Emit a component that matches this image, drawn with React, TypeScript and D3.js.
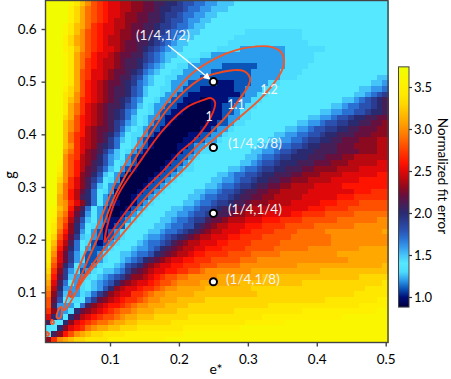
import React, { useEffect, useRef } from "react";
import * as d3 from "d3";

// fit error, one string per row (top row first), 60 cells each.
// a = 0.9, b = 1.0 ... z = 3.4, A = 3.5, B = 3.6, C = 3.7. spaces are only for counting
const levels = "abcdefghijklmnopqrstuvwxyzABC";
const fitErrorRows = [
  "CCCCBzxvts rqqppoonnm mllkjjiihh gggfffffff ffffffffff ffffffffff",
  "CCCCAywuts rqqppoonnm llkkjiihhg ggffffffff ffffffffff ffffffffff",
  "CCCCAywuts rqqpoonnmm lkkjiihhgg ffffffffff ffffffffff ffffffffff",
  "CCCCAywuts rqppoonnmm lkjjihhggf ffffffffff ffffffffff ffffffffff",
  "CCCBzxwusr qqpponnmml kkjiihggff ffffffffff ffffffffff ffffffffff",
  "CCCBzxvtsr qqpoonnmml kjiihggfff fffffeeeee eeeeefffff ffffffffff",
  "CCCAywvtsr qppoonmmlk jjihggffff fffeeeeeee eeeeefffff ffffffffff",
  "CCCAywvtsr qpponnmmlk jihggfffff ffeeeeeeee eeeeeeffff ffffffffff",
  "CCCAzxvtsr qqponnmlkj ihggffffff eeeedddddd ddeeeeeeef ffffffffff",
  "CCCBzwutrq qponnmmkji hggffffeed dddddddddd ddeeeeefff ffffffffff",
  "CCCBzwusrq pponmmlkji hgfffeeddd dddddddddd ddeeeeefff ffffffffff",
  "CCCBzwusrq pponmmljih gffeeddddd dccccccddd ddeeeeffff ffffffffff",
  "CCCBzwtsqq ponnmlkihg ffeedddddc ccccccdddd deeeefffff ffffffffff",
  "CCCBzwtsqq ponmmkjhgf feeddddccc ccccccdddd deeeffffff ffffffffgg",
  "CCCBzwtrqp onnmlkihgf fedddccccc bbbcccddde efffffffff fffffffggh",
  "CCCAywtrqp onmmljigff eeddcccbbb bbbccdddee ffffffffff fffffgghhi",
  "CCCzyvtrqp onmmljigff eddccbbbbb bbbbcddeef ffffffffff ffffgghijk",
  "CCCzxvsrqp onmlkihffe ddccbbbaab bbccddeeff ffffffffff ffgghijklm",
  "CCCzwusqpo nmmljigfed dccbbaaaab bccddeefff ffffffffff gghiijjklm",
  "CCCzwusqpo nmlkihffed ccbbaaaaab bccdeeffff ffffffffgg hhiijjkllm",
  "CCCywtrqpo nmlkigfedd cbbaaaaaab bcddeeffff ffffffgghh ijjkllmmnn",
  "CCCxvtrqpo nmkjhgfedc cbaaaaaabb ccdeefffff ffffgghhij jkkllmmnno",
  "CCCxvtrpon nmkigfedcc baaaaaabbc ddefffffff ffgghhijjk kllmmnnnoo",
  "CCCxusrpon mljhfeedcb aaaaabbccd deffffffff gghhiijjkl lmmmnnnooo",
  "CCCxusqpon mkigfedcba aaaabbccdd effffffffg ghhiijkkll mmnnnooopp",
  "CCCxvsqpom lkiffedcba aaabbcddee fffffffggh hiijjkllmm mnnnoooopp",
  "CCCwusqonm kigfedcbaa aaabccdeef ffffffgghh ijjklllmmm mnnnnooopp",
  "CCCvtsponl jhgfdcbaaa aabccdefff fffffgghii jkklllmmmn nnoopppppp",
  "CCBvtrpoml jhfedcaaaa abccdeffff ffffgghijj klllmmmnnn ooopppppqq",
  "CCAvtrpnmk igfdcbaaaa bccdeeffff ffgghiijkk llmmmnnooo oppppqqqqq",
  "CCzvtronlj gfdcaaaaab ccdeffffff gghiijjkll mmmnnooopp ppqqqqqqrr",
  "CCyvsqomki fedbaaaabc cdeffffffg ghhijjkllm mnnooopppp qqqqqrrrrr",
  "CCxusqomjg fdcaaaabcc deffffffgg hiijkklmmn nooppppqqq qqrrrrrrrr",
  "CCxurpnlif edbaaabccd efffffgghh ijjklmmnno opppppqqqq qqqqrrrsss",
  "CCwurpmlif dcaaabccde fffffgghii jjklmmnnoo pppppqqqqq qrrrssssss",
  "CCwvsqolif dcbaabcdef ffffgghiij kklmmnooop pppqqqqqrr rssssttttt",
  "CBxvromifd cbaabcdeff ffgghhijjk lmmnnopppp pqqqqqrrrs sssttttttt",
  "CBwuqnlhfd caabcdefff fgghhijjkl mmnoopppqq qqqrrsssst ttttuuuuuu",
  "CAvtpmjgfd cbbcdeffff gghiijkkmn nopppqqqrr rssssttttt tuuuuuuuvv",
  "Czvsolifed bbcceffffg ghiijjlmno ppqqqrrrss sstttttuuu uuuuvvvvvv",
  "Czurolhfdc bcdeffffgg hiijklmnop pqqqrrssss ttttuuuuuv vvvvvvvvvw",
  "Bytqnkgedc bcdefffghh ijklmnoppq qqrrsssstt tttuuuuuuu vvvvvvvvvv",
  "Bxspmifecb cdefffghii jkmnoppqqq rrsssstttt tuuuuuuuuu vvvvvvvvvv",
  "Bwrolifdcc defffghhij lmnoppqqrr rssssttttt uuuuuuvvvv vvvvvwwwww",
  "Avqnkheccd effgghiijl mnoppqrrss ssttttuuuu uvvvvvvvvv vwwwwwwwww",
  "Auqnkheccd effghijlmn opqqrrssst ttttuuuvvv vvvvvvvvvv vvvwwwwwww",
  "ztpljfdcde ffghjklnop qqrrsssttt uuuuvvvvvv vvvvwwwwww wwwwwwwwwx",
  "ysokhecdef gghikmnopq qrrssttuvv vvvvvvwwww wwwwwwwwxx xxxxxxxxxx",
  "xrnkgddefg hijkmoopqr sttuuvvvvv wwwwwwwwxx xxxxxxxxxx xxxxxyyyyy",
  "wqmifdefgh ijlnopqqrs ttuvvvvwww wwwwxxxxxx xxxxxyyyyy yyyyyyyyyz",
  "vplhddefgh jlopqqrsst uvvwwwwwxx xxxxxxyyyy yyyyyyyyyy yyyyyyzzzz",
  "uokgddegik mopqqsstuv vwwwwwxxxx xxxxxxxyyy yyyyyyyyyy yyyyzzzzzz",
  "tnjfeefikn opqrsstuvv wwwxxxxxyy yyyyyyyyyy yyyyyyyyyz zzzzzzzzAA",
  "tmhddfimop qrrstuvvww wxxxxyyyyy yyyyyyyyyz zzzzzzzzzz zzzzzAAAAA",
  "soidelnopq rstuuvwwwx xxxyyyyyyy yyyzzzzzzz zzzzzAAAAA AAAAAAAABB",
  "qliflnpqrs ttuvwwxxxy yyyyyzzzzz zzzzzzzzAA AAAAAAAAAA AABBBBBBBB",
  "mffloqrstu uvwwxxyyyy yyzzzzzzzz zzzzzAAAAA AABBBBBBBB BBBBBBBBBB",
  "ffloqrsuvw wxxyyyzzzz zzzzAAAAAA AAAABBBBBB BBBBBBBBBB BBBBBBBBBB",
  "fmortvwxyy zzzzAAAAAA AAAABBBBBB BBBBBBBBBB BBBBBBBBBB BBBBBBBBBB",
  "osvwxyyzzz zAAAAAAAAA ABBBBBBBBB BBBBBBBBBB BBBBBBBBBB BBBBBBBBBB",
];

const colorValues = [0.88, 0.9, 1, 1.1, 1.2, 1.3, 1.4, 1.5, 1.6, 1.7, 1.8, 1.9, 2, 2.1, 2.2, 2.3, 2.4, 2.5, 2.6, 2.7, 2.8, 2.9, 3, 3.1, 3.2, 3.3, 3.4, 3.5, 3.6, 3.74];
const colorStops = ["#00003c", "#000048", "#001078", "#0c55b8", "#2c9cec", "#4cdcfe", "#55e8ff", "#45c4fa", "#3498ec", "#2a70d2", "#2a50b0", "#2a3c90", "#2a2a70", "#451f58", "#661040", "#8c0a20", "#b80810", "#e00808", "#ff1400", "#ff3000", "#ff5000", "#ff7000", "#ff8e00", "#ffa800", "#ffc000", "#ffd800", "#ffe800", "#fff000", "#faf600", "#eeff00"];

// contour lines as [e*, g]
const contour12: [number, number][] = [[.0332, .0664], [.0521, .1385], [.0855, .2372], [.1145, .3264], [.1537, .408], [.1885, .4706], [.2161, .5123], [.2538, .5446], [.2829, .5598], [.3221, .5674], [.3351, .5655], [.3482, .556], [.3525, .537], [.3467, .5142], [.3322, .4877], [.3163, .4649], [.2829, .4269], [.2495, .389], [.2306, .3681], [.2118, .3397], [.1624, .277], [.1044, .1898], [.0623, .1252], [.0361, .0683]];
const contour11: [number, number][] = [[.0507, .1063], [.0666, .1575], [.0898, .2258], [.1044, .2751], [.1247, .3264], [.1624, .408], [.1871, .4535], [.2306, .5047], [.2495, .5142], [.2785, .5218], [.2945, .5199], [.3032, .5066], [.3017, .4953], [.293, .4763], [.2727, .4402], [.2538, .4136], [.2306, .3833], [.2016, .3454], [.1537, .2827], [.1044, .2049], [.0637, .1328]];
const contour10: [number, number][] = [[.0927, .1954], [.0956, .2239], [.1116, .2846], [.145, .351], [.1769, .408], [.2118, .4516], [.235, .4649], [.2466, .4687], [.2524, .4611], [.2495, .4421], [.2263, .3947], [.2016, .3662], [.1769, .3302], [.1435, .2865], [.0971, .2049]];
const islandA: [number, number][] = [[.0231, .0512], [.0245, .0645], [.0289, .0721], [.0303, .0626], [.0274, .0512]];
const islandB: [number, number][] = [[.0158, .0474], [.0187, .0436], [.0173, .0399], [.0144, .0417]];
const islandC: [number, number][] = [[.0086, .0247], [.0115, .0209], [.01, .0171], [.0078, .019]];
const islandD: [number, number][] = [[.0419, .1025], [.0448, .0968], [.0434, .0911], [.0405, .0949]];

const pointE = [0.25, 0.25, 0.25, 0.25];
const pointG = [0.5, 0.375, 0.25, 0.12];
const pointLabels = ["(1/4,1/2)", "(1/4,3/8)", "(1/4,1/4)", "(1/4,1/8)"];
const contourLabels = ["1", "1.1", "1.2"];
const contourLabelE = [0.2437, 0.2829, 0.3308];
const contourLabelG = [0.4345, 0.4573, 0.4858];
const xTicks = [0.1, 0.2, 0.3, 0.4, 0.5];
const yTicks = [0.1, 0.2, 0.3, 0.4, 0.5, 0.6];
const barTicks = [1, 1.5, 2, 2.5, 3, 3.5];

const W = 451, H = 379;
const left = 45.5, right = 388, top = 0.5, bottom = 342.5;
const font = "Lato, 'Open Sans', sans-serif";

const App = () => {
  const ref = useRef<SVGSVGElement>(null);

  useEffect(() => {
    const svg = d3.select(ref.current);
    svg.selectAll("*").remove();

    const x = d3.scaleLinear().domain([0.1, 0.5]).range([110, 385.7]);
    const y = d3.scaleLinear().domain([0.1, 0.6]).range([292.3, 29]);
    const color = d3.scaleLinear<string>().domain(colorValues).range(colorStops);

    const rows = fitErrorRows.map((r) => r.split(" ").join("").split("").map((c) => 0.9 + 0.1 * levels.indexOf(c)));
    const col = d3.scaleBand<number>().domain(d3.range(60)).range([left, right]);
    const row = d3.scaleBand<number>().domain(d3.range(60)).range([top, bottom]);

    const cells = svg.append("g").attr("shape-rendering", "crispEdges");
    rows.forEach((vals, j) => {
      cells.selectAll(null)
        .data(vals)
        .enter()
        .append("rect")
        .attr("x", (_, i) => col(i)!)
        .attr("y", row(j)!)
        .attr("width", col.bandwidth() + 0.5)
        .attr("height", row.bandwidth() + 0.5)
        .attr("fill", (d) => color(d));
    });

    const line = d3.line<[number, number]>()
      .x((d) => x(d[0]))
      .y((d) => y(d[1]))
      .curve(d3.curveCatmullRomClosed.alpha(0.5));

    const contours: [[number, number][], string][] = [
      [contour12, "#f1592a"],
      [contour11, "#f04a20"],
      [contour10, "#ee2a1e"],
      [islandA, "#f1592a"],
      [islandB, "#f1592a"],
      [islandC, "#f1592a"],
      [islandD, "#f04a20"],
    ];
    contours.forEach(([pts, stroke]) => {
      svg.append("path")
        .attr("d", line(pts))
        .attr("fill", "none")
        .attr("stroke", stroke)
        .attr("stroke-width", 1.9);
    });

    // frame and axes
    svg.append("rect")
      .attr("x", left).attr("y", top)
      .attr("width", right - left).attr("height", bottom - top)
      .attr("fill", "none").attr("stroke", "#444").attr("stroke-width", 1.4);

    const xAxis = svg.append("g")
      .attr("transform", `translate(0,${bottom})`)
      .call(d3.axisBottom(x).tickValues(xTicks).tickFormat(d3.format(".1f")).tickSize(4).tickPadding(8));
    const yAxis = svg.append("g")
      .attr("transform", `translate(${left},0)`)
      .call(d3.axisLeft(y).tickValues(yTicks).tickFormat(d3.format(".1f")).tickSize(4).tickPadding(5));
    [xAxis, yAxis].forEach((a) => {
      a.select(".domain").remove();
      a.selectAll("line").attr("stroke", "#444").attr("stroke-width", 1.4);
      a.selectAll("text").attr("font-family", font).attr("font-size", 13.5).attr("fill", "#000");
    });

    svg.append("text").attr("x", 216).attr("y", 374).attr("text-anchor", "middle")
      .attr("font-family", font).attr("font-size", 14).attr("fill", "#000").text("e*");
    svg.append("text").attr("transform", "translate(15,175) rotate(-90)").attr("text-anchor", "middle")
      .attr("font-family", font).attr("font-size", 14.5).attr("fill", "#000").text("g");

    // arrow to the first point
    const defs = svg.append("defs");
    defs.append("marker").attr("id", "head")
      .attr("viewBox", "0 0 10 10").attr("refX", 9).attr("refY", 5)
      .attr("markerWidth", 9).attr("markerHeight", 7).attr("orient", "auto")
      .attr("markerUnits", "userSpaceOnUse")
      .append("path").attr("d", "M0,0L10,5L0,10z").attr("fill", "#fff");
    svg.append("line")
      .attr("x1", x(0.1842)).attr("y1", y(0.5693))
      .attr("x2", x(0.2451)).attr("y2", y(0.5047))
      .attr("stroke", "#fff").attr("stroke-width", 1.2).attr("marker-end", "url(#head)");

    // points
    svg.selectAll("circle.pt")
      .data(pointE)
      .enter()
      .append("circle")
      .attr("class", "pt")
      .attr("cx", (d) => x(d))
      .attr("cy", (_, i) => y(pointG[i]))
      .attr("r", 3.6)
      .attr("fill", "#fff")
      .attr("stroke", "#000")
      .attr("stroke-width", 2);

    svg.selectAll("text.pl")
      .data(pointLabels)
      .enter()
      .append("text")
      .attr("class", "pl")
      .attr("x", (_, i) => (i === 0 ? 136 : i === 3 ? 226 : 228))
      .attr("y", (_, i) => (i === 0 ? 40 : y(pointG[i]) + (i === 3 ? 2 : 1)))
      .attr("font-family", font)
      .attr("font-size", 13.5)
      .attr("fill", "#f4f4f4")
      .text((d) => d);

    svg.selectAll("text.cl")
      .data(contourLabels)
      .enter()
      .append("text")
      .attr("class", "cl")
      .attr("x", (_, i) => x(contourLabelE[i]))
      .attr("y", (_, i) => y(contourLabelG[i]))
      .attr("dy", "0.35em")
      .attr("text-anchor", "middle")
      .attr("font-family", font)
      .attr("font-size", 12.5)
      .attr("fill", "#f4f4f4")
      .text((d) => d);

    // colour bar
    const barY = d3.scaleLinear().domain([1, 3.5]).range([297, 87]);
    const barX = 398.5, barW = 10.5;
    const grad = defs.append("linearGradient").attr("id", "bar")
      .attr("x1", 0).attr("x2", 0).attr("y1", 1).attr("y2", 0);
    colorValues.forEach((v, i) => {
      grad.append("stop")
        .attr("offset", (v - colorValues[0]) / (colorValues[colorValues.length - 1] - colorValues[0]))
        .attr("stop-color", colorStops[i]);
    });
    svg.append("rect")
      .attr("x", barX).attr("y", barY(3.74))
      .attr("width", barW).attr("height", barY(0.88) - barY(3.74))
      .attr("fill", "url(#bar)").attr("stroke", "#444").attr("stroke-width", 1);
    const barAxis = svg.append("g")
      .attr("transform", `translate(${barX + barW},0)`)
      .call(d3.axisRight(barY).tickValues(barTicks).tickFormat(d3.format(".1f")).tickSize(3).tickPadding(2));
    barAxis.select(".domain").remove();
    barAxis.selectAll("line").attr("stroke", "#333").attr("stroke-width", 1.2);
    barAxis.selectAll("text").attr("font-family", font).attr("font-size", 13).attr("fill", "#000");

    svg.append("text").attr("transform", "translate(438,176) rotate(90)").attr("text-anchor", "middle")
      .attr("font-family", font).attr("font-size", 13.5).attr("fill", "#000").text("Normalized fit error");
  }, []);

  return <svg ref={ref} width={W} height={H} style={{ position: "absolute", left: 0, top: 0, background: "#fff" }} />;
};

export default App;
